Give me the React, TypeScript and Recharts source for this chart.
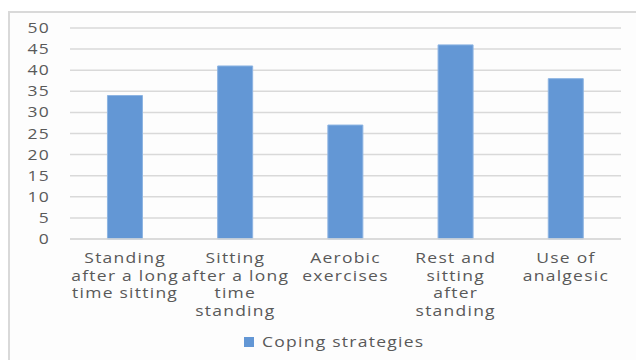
import { BarChart, Bar, XAxis, YAxis, CartesianGrid, Legend } from "recharts";

const categories = [
    "Standing\nafter a long\ntime sitting",
    "Sitting\nafter a long\ntime\nstanding",
    "Aerobic\nexercises",
    "Rest and\nsitting\nafter\nstanding",
    "Use of\nanalgesic",
];
const copingValues = [34, 41, 27, 46, 38];
const yTicks = [0, 5, 10, 15, 20, 25, 30, 35, 40, 45, 50];

const data = categories.map((name, i) => ({ name, value: copingValues[i] }));

const textColor = "#595959";
const fontFamily = "'Open Sans', sans-serif";
const stretch = 1.25;

function CategoryTick(props: any) {
    const { x, y, payload } = props;
    const lines = String(payload.value).split("\n");
    return (
        <g transform={`translate(${x},${y}) scale(${stretch},1)`}>
            <text x={0} y={0} textAnchor="middle" fill={textColor} fontSize={14} fontFamily={fontFamily} letterSpacing={1}>
                {lines.map((line, i) => (
                    <tspan key={i} x={0} dy={i === 0 ? 16 : 17.6}>
                        {line}
                    </tspan>
                ))}
            </text>
        </g>
    );
}

function ValueTick(props: any) {
    const { x, y, payload } = props;
    return (
        <g transform={`translate(${x},${y}) scale(${stretch},1)`}>
            <text x={0} y={0} dy={5} textAnchor="end" fill={textColor} fontSize={14} fontFamily={fontFamily} letterSpacing={1}>
                {payload.value}
            </text>
        </g>
    );
}

function LegendContent() {
    return (
        <div style={{ display: "flex", justifyContent: "center", alignItems: "center", fontFamily, fontSize: 14, color: textColor }}>
            <span style={{ display: "inline-block", width: 10, height: 10, background: "#6397D5", marginRight: 8 }} />
            <span style={{ display: "inline-block", transform: `scaleX(${stretch})`, transformOrigin: "left center", letterSpacing: 1, width: 130 }}>
                Coping strategies
            </span>
        </div>
    );
}

export default function App() {
    return (
        <div style={{ position: "absolute", left: 0, top: 0, width: 636, height: 360, background: "#fff", overflow: "hidden" }}>
            <div
                style={{
                    position: "absolute",
                    left: 8,
                    top: 11,
                    width: 640,
                    height: 360,
                    border: "2px solid #d9d9d9",
                    background: "#fdfdfd",
                }}
            />
            <div style={{ position: "absolute", left: 0, top: 0 }}>
                <BarChart
                    width={636}
                    height={360}
                    data={data}
                    margin={{ top: 28, right: 15, bottom: 2, left: 0 }}
                    barCategoryGap="34%"
                >
                    <CartesianGrid vertical={false} stroke="#d9d9d9" strokeWidth={1.5} />
                    <XAxis
                        dataKey="name"
                        interval={0}
                        tickLine={false}
                        axisLine={{ stroke: "#d9d9d9", strokeWidth: 1.5 }}
                        tick={<CategoryTick />}
                        height={100}
                    />
                    <YAxis
                        domain={[0, 50]}
                        ticks={yTicks}
                        interval={0}
                        width={70}
                        tickSize={0}
                        tickMargin={20}
                        axisLine={false}
                        tickLine={false}
                        tick={<ValueTick />}
                    />
                    <Legend
                        content={<LegendContent />}
                        verticalAlign="bottom"
                        wrapperStyle={{ left: 0, width: 636, top: 332 }}
                    />
                    <Bar dataKey="value" fill="#6397D5" stroke="#8DB4E2" strokeWidth={1} isAnimationActive={false} />
                </BarChart>
            </div>
        </div>
    );
}
